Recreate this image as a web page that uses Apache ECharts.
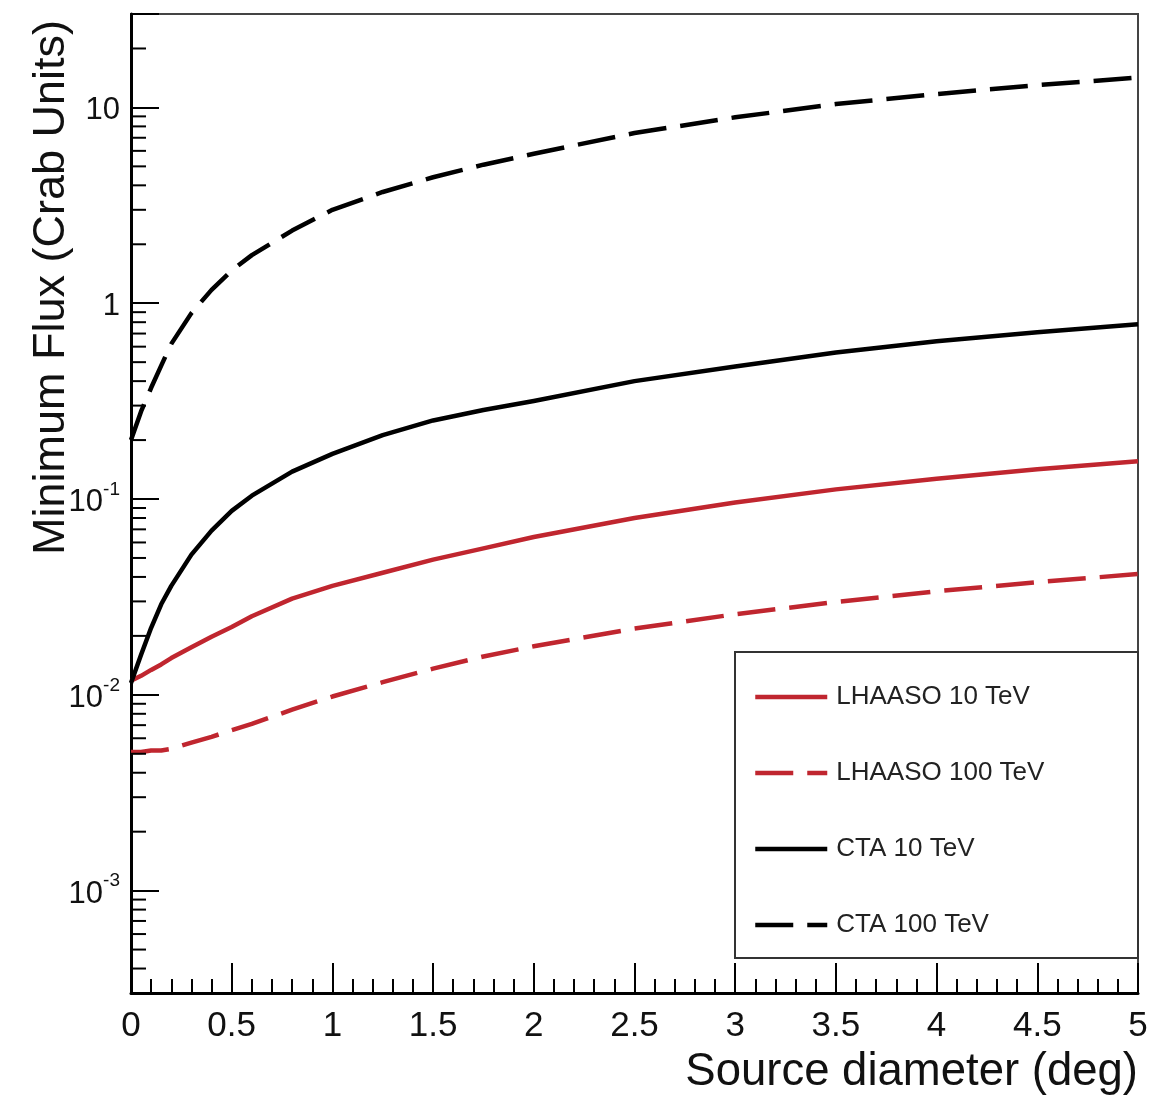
<!DOCTYPE html>
<html>
<head>
<meta charset="utf-8">
<script src="https://cdn.jsdelivr.net/npm/echarts@6/dist/echarts.min.js"></script>
<style>
  html, body { margin: 0; padding: 0; background: #fff; }
  #chart { width: 1176px; height: 1101px; }
</style>
</head>
<body>
<div id="chart"></div>
<script>
// source diameter (deg)
var diam = [0, 0.05, 0.1, 0.15, 0.2, 0.3, 0.4, 0.5, 0.6, 0.8, 1.0, 1.25, 1.5, 1.75, 2, 2.5, 3, 3.5, 4, 4.5, 5];
// minimum flux (Crab units)
var lhaaso10 = [0.0118, 0.0125, 0.0134, 0.0143, 0.0154, 0.0175, 0.0198, 0.0222, 0.0252, 0.031, 0.036, 0.042, 0.049, 0.056, 0.064, 0.080, 0.096, 0.112, 0.127, 0.142, 0.156];
var lhaaso100 = [0.0051, 0.0051, 0.0052, 0.0052, 0.0053, 0.0057, 0.0061, 0.0066, 0.0071, 0.0084, 0.0098, 0.0116, 0.0136, 0.0157, 0.0177, 0.0218, 0.0258, 0.0298, 0.0338, 0.0376, 0.0414];
var cta10 = [0.0115, 0.016, 0.022, 0.029, 0.036, 0.052, 0.069, 0.087, 0.104, 0.138, 0.17, 0.212, 0.252, 0.285, 0.317, 0.40, 0.475, 0.56, 0.64, 0.71, 0.78];
var cta100 = [0.20, 0.28, 0.37, 0.48, 0.62, 0.89, 1.17, 1.47, 1.76, 2.35, 3.0, 3.7, 4.4, 5.1, 5.8, 7.4, 8.9, 10.4, 11.7, 13.0, 14.2];
var names = ['LHAASO 10 TeV', 'LHAASO 100 TeV', 'CTA 10 TeV', 'CTA 100 TeV'];

var yMin = 3e-4, yMax = 30;
var red = '#c0262f';
var dash = [38, 14];
var font = 'Liberation Sans, Arial, Helvetica, sans-serif';

function pairs(ys) {
  var out = [];
  for (var i = 0; i < diam.length; i++) out.push([diam[i], ys[i]]);
  return out;
}

// ROOT style minor ticks on the log axis: 2..9 x 10^n
var yMinor = [];
for (var e = -4; e <= 1; e++) {
  for (var m = 2; m <= 9; m++) {
    var v = m * Math.pow(10, e);
    if (v > yMin * 1.001 && v < yMax * 0.999) yMinor.push(v);
  }
}

function lineSeries(name, ys, color, dashed) {
  return {
    name: name,
    type: 'line',
    data: pairs(ys),
    showSymbol: false,
    symbol: 'none',
    smooth: false,
    z: 3,
    lineStyle: {
      color: color,
      width: 4.5,
      type: dashed ? dash : 'solid',
      cap: 'butt',
      join: 'round'
    },
    itemStyle: { color: color }
  };
}

function legendItem(name, color, dashed) {
  return {
    name: name,
    itemStyle: { opacity: 0 },
    lineStyle: { color: color, width: 4.5, type: dashed ? dash : 'solid' }
  };
}

var chart = echarts.init(document.getElementById('chart'));
chart.setOption({
  animation: false,
  backgroundColor: '#fff',
  grid: {
    left: 131, right: 38, top: 14, bottom: 108,
    show: true,
    borderColor: '#444',
    borderWidth: 2
  },
  xAxis: {
    type: 'value',
    min: 0, max: 5, interval: 0.5,
    axisLine: { lineStyle: { color: '#000', width: 3 } },
    axisTick: { inside: true, length: 30, lineStyle: { color: '#000', width: 2 } },
    minorTick: { show: true, splitNumber: 5, length: 14, lineStyle: { color: '#000', width: 2 } },
    splitLine: { show: false },
    axisLabel: { color: '#111', fontSize: 35, fontFamily: font, margin: 16 }
  },
  yAxis: {
    type: 'log',
    logBase: 10,
    min: yMin, max: yMax,
    axisLine: { lineStyle: { color: '#000', width: 3 } },
    axisTick: { inside: true, length: 28, lineStyle: { color: '#000', width: 2 } },
    splitLine: { show: false },
    axisLabel: {
      color: '#111', fontFamily: font, margin: 11,
      formatter: function(val) {
        var lg = Math.log(val) / Math.LN10;
        var ex = Math.round(lg);
        if (Math.abs(lg - ex) > 1e-6) return '';
        if (ex === 0) return '{b|1}';
        if (ex === 1) return '{b|10}';
        return '{b|10}{s|' + ex + '}';
      },
      rich: {
        b: { fontSize: 31, fontFamily: font, color: '#111', lineHeight: 38, verticalAlign: 'bottom' },
        s: { fontSize: 19, fontFamily: font, color: '#111', lineHeight: 38, verticalAlign: 'top' }
      }
    }
  },
  legend: {
    data: [
      legendItem(names[0], red, false),
      legendItem(names[1], red, true),
      legendItem(names[2], '#000', false),
      legendItem(names[3], '#000', true)
    ],
    orient: 'vertical',
    left: 748,
    top: 679,
    itemWidth: 72,
    itemHeight: 14,
    itemGap: 50,
    z: 6,
    textStyle: { fontSize: 26, fontFamily: font, color: '#222', padding: [0, 0, 0, 4] }
  },
  graphic: [
    {
      type: 'rect',
      z: 4,
      shape: { x: 735, y: 652, width: 403, height: 306 },
      style: { fill: '#fff', stroke: '#333', lineWidth: 2 }
    },
    {
      type: 'text',
      x: 52, y: 20,
      rotation: Math.PI / 2,
      style: {
        text: 'Minimum Flux (Crab Units)',
        fontSize: 45, fontFamily: font, fill: '#111',
        textAlign: 'right', textVerticalAlign: 'middle'
      }
    },
    {
      type: 'text',
      x: 1138, y: 1072,
      style: {
        text: 'Source diameter (deg)',
        fontSize: 45.5, fontFamily: font, fill: '#111',
        textAlign: 'right', textVerticalAlign: 'middle'
      }
    }
  ],
  series: [
    lineSeries(names[0], lhaaso10, red, false),
    lineSeries(names[1], lhaaso100, red, true),
    lineSeries(names[2], cta10, '#000', false),
    lineSeries(names[3], cta100, '#000', true),
    {
      name: 'yMinorTicks',
      type: 'custom',
      silent: true,
      clip: false,
      z: 5,
      data: yMinor.map(function(v) { return [0, v]; }),
      renderItem: function(params, api) {
        var p = api.coord([0, api.value(1)]);
        return {
          type: 'line',
          shape: { x1: p[0], y1: p[1], x2: p[0] + 15, y2: p[1] },
          style: { stroke: '#000', lineWidth: 2 }
        };
      }
    }
  ]
});
</script>
</body>
</html>
